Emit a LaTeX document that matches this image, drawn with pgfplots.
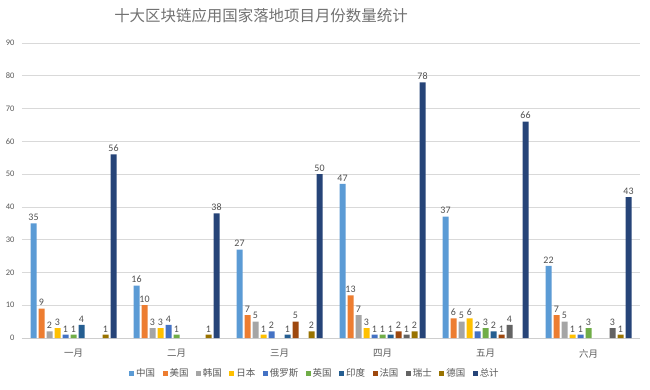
\documentclass[border=0pt]{standalone}
\usepackage{fontspec}
\setmainfont{Carlito}
\newfontfamily\cjk{Noto Sans CJK SC}
\usepackage{pgfplots}
\pgfplotsset{compat=1.18}
\definecolor{cA}{HTML}{5B9BD5}
\definecolor{cB}{HTML}{ED7D31}
\definecolor{cC}{HTML}{A5A5A5}
\definecolor{cD}{HTML}{FFC000}
\definecolor{cE}{HTML}{4472C4}
\definecolor{cF}{HTML}{70AD47}
\definecolor{cG}{HTML}{255E91}
\definecolor{cH}{HTML}{9E480E}
\definecolor{cI}{HTML}{636363}
\definecolor{cJ}{HTML}{997300}
\definecolor{cK}{HTML}{264478}
\definecolor{txt}{HTML}{595959}
\definecolor{grd}{HTML}{D9D9D9}
\begin{document}
\begin{tikzpicture}
\path[use as bounding box, fill=white] (0,0) rectangle (650bp,390bp);
\node[font=\cjk\fontsize{15.5}{18}\selectfont, text=txt!85] at (261bp,374bp) {十大区块链应用国家落地项目月份数量统计};
\begin{axis}[
  at={(22bp,52bp)}, anchor=south west,
  scale only axis, width=618bp, height=295bp,
  ybar=2bp, bar width=6bp,
  ymin=0, ymax=90, ytick={0,10,...,90},
  xmin=-0.5, xmax=5.5, xtick={0,1,2,3,4,5},
  xticklabels={一月,二月,三月,四月,五月,六月},
  xticklabel style={font=\cjk\fontsize{9.5}{11}\selectfont, text=txt, yshift=-8bp},
  yticklabel style={font=\fontsize{8.5}{10}\selectfont, text=txt, xshift=-4bp},
  /pgf/number format/assume math mode=true,
  major tick length=0pt,
  ymajorgrids, grid style={grd, line width=0.6pt},
  axis x line*=bottom, axis y line*=left,
  x axis line style={draw=grd!80!black!60, line width=0.6pt},
  y axis line style={draw=none},
  every axis plot/.append style={draw=none},
  nodes near coords,
  nodes near coords style={font=\fontsize{10}{11}\selectfont, text=txt!90!black, inner sep=2.5pt},
  legend columns=11,
  legend style={at={(0.474,-0.119)}, anchor=center, draw=none, fill=none,
    font=\cjk\fontsize{9.5}{11}\selectfont, text=txt,
    /tikz/every even column/.append style={column sep=5.5bp}},
  legend image code/.code={\fill[#1] (0bp,-2.5bp) rectangle (5bp,2.5bp);},
]
\addplot[fill=cA] coordinates {(0,35)(1,16)(2,27)(3,47)(4,37)(5,22)};
\addplot[fill=cB] coordinates {(0,9)(1,10)(2,7)(3,13)(4,6)(5,7)};
\addplot[fill=cC] coordinates {(0,2)(1,3)(2,5)(3,7)(4,5)(5,5)};
\addplot[fill=cD] coordinates {(0,3)(1,3)(2,1)(3,3)(4,6)(5,1)};
\addplot[fill=cE] coordinates {(0,1)(1,4)(2,2)(3,1)(4,2)(5,1)};
\addplot[fill=cF] coordinates {(0,1)(1,1)(3,1)(4,3)(5,3)};
\addplot[fill=cG] coordinates {(0,4)(2,1)(3,1)(4,2)};
\addplot[fill=cH] coordinates {(2,5)(3,2)(4,1)};
\addplot[fill=cI] coordinates {(3,1)(4,4)(5,3)};
\addplot[fill=cJ] coordinates {(0,1)(1,1)(2,2)(3,2)(5,1)};
\addplot[fill=cK] coordinates {(0,56)(1,38)(2,50)(3,78)(4,66)(5,43)};
\legend{中国,美国,韩国,日本,俄罗斯,英国,印度,法国,瑞士,德国,总计}
\end{axis}
\end{tikzpicture}
\end{document}
